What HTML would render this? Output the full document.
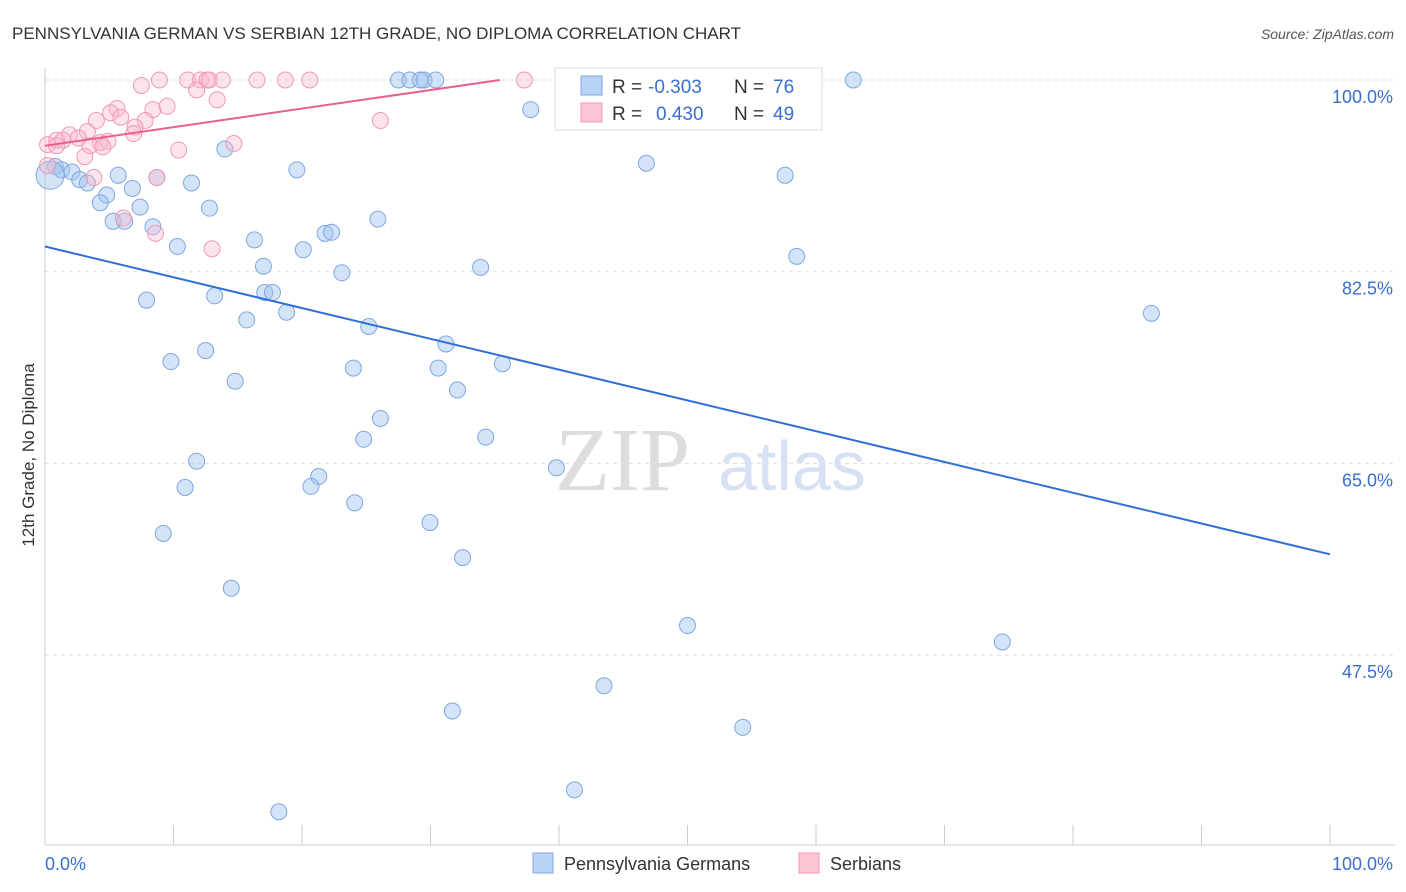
<!DOCTYPE html>
<html><head><meta charset="utf-8">
<style>
body{margin:0;background:#fff;font-family:"Liberation Sans",sans-serif;}
svg{display:block}
</style></head>
<body>
<svg id="chart" width="1406" height="892" xmlns="http://www.w3.org/2000/svg">
<text x="12" y="39" font-size="17" fill="#333">PENNSYLVANIA GERMAN VS SERBIAN 12TH GRADE, NO DIPLOMA CORRELATION CHART</text>
<text x="1394" y="39" font-size="14" fill="#555" text-anchor="end" font-style="italic">Source: ZipAtlas.com</text>
<g id="grid"></g>
<g id="axes"></g>
<text x="555" y="490" font-size="90" fill="#ddd" font-family="Liberation Serif,serif">ZIP</text>
<text x="718" y="490" font-size="70" fill="#d6e2f3">atlas</text>
<g id="pts"></g>
<g id="trend"></g>
<text transform="translate(34,455) rotate(-90)" font-size="17" fill="#333" text-anchor="middle">12th Grade, No Diploma</text>
<g>
<rect x="555" y="68" width="267" height="62" fill="#fff" stroke="#ddd"/>
<rect x="581" y="76" width="21" height="19" fill="#b8d2f5" stroke="#7fa7e0"/>
<rect x="581" y="103" width="21" height="19" fill="#fcc6d5" stroke="#f09ab4"/>
<text x="612" y="93" font-size="19" fill="#333">R =</text>
<text x="648" y="93" font-size="19" fill="#3a6fd1">-0.303</text>
<text x="734" y="93" font-size="19" fill="#333">N =</text>
<text x="773" y="93" font-size="19" fill="#3a6fd1">76</text>
<text x="612" y="120" font-size="19" fill="#333">R =</text>
<text x="656" y="120" font-size="19" fill="#3a6fd1">0.430</text>
<text x="734" y="120" font-size="19" fill="#333">N =</text>
<text x="773" y="120" font-size="19" fill="#3a6fd1">49</text>
</g>
<g>
<rect x="533" y="853" width="20" height="20" fill="#b8d2f5" stroke="#7fa7e0"/>
<text x="564" y="870" font-size="18" fill="#333">Pennsylvania Germans</text>
<rect x="799" y="853" width="20" height="20" fill="#fcc6d5" stroke="#f09ab4"/>
<text x="830" y="870" font-size="18" fill="#333">Serbians</text>
</g>
</svg>
<script>
const yTicks=[100,82.5,65,47.5];
const yTickLabels=["100.0%","82.5%","65.0%","47.5%"];
const blueX=[27.5,28.4,29.5,29.2,30.4,62.9,37.8,14.0,46.8,19.6,57.6,0.8,1.3,2.1,2.7,3.3,5.7,8.7,11.4,4.8,6.8,4.3,7.4,12.8,5.3,6.2,8.4,25.9,21.8,22.3,16.3,10.3,20.1,58.5,17.0,33.9,23.1,7.9,13.2,17.1,17.7,18.8,15.7,25.2,86.1,31.2,12.5,9.8,35.6,24.0,30.6,14.8,32.1,26.1,24.8,34.3,11.8,39.8,21.3,20.7,10.9,24.1,29.96,9.2,32.5,14.5,50.0,74.5,43.5,31.7,54.3,41.2,18.2,0.4];
const blueY=[100,100,100,100,100,100,97.3,93.7,92.4,91.8,91.3,92.1,91.8,91.6,90.9,90.6,91.3,91.1,90.6,89.5,90.1,88.8,88.4,88.3,87.1,87.1,86.6,87.3,86.0,86.1,85.4,84.8,84.5,83.9,83.0,82.9,82.4,79.9,80.3,80.6,80.6,78.8,78.1,77.5,78.7,75.9,75.3,74.3,74.1,73.7,73.7,72.5,71.7,69.1,67.2,67.4,65.2,64.6,63.8,62.9,62.8,61.4,59.6,58.6,56.4,53.6,50.2,48.7,44.7,42.4,40.9,35.2,33.2,91.3];
const pinkX=[8.9,11.1,12.1,12.6,12.8,13.8,16.5,18.7,20.6,37.3,7.5,11.8,13.4,5.6,5.1,8.4,9.5,5.9,4.0,7.8,7.0,3.3,1.9,6.9,0.9,1.4,2.6,4.3,4.9,0.2,0.9,3.5,4.5,14.7,10.4,3.1,26.1,3.8,8.7,6.1,8.6,13.0,0.2];
const pinkY=[100,100,100,100,100,100,100,100,100,100,99.5,99.1,98.2,97.4,97.0,97.3,97.6,96.6,96.3,96.3,95.7,95.3,95.0,95.1,94.5,94.5,94.7,94.3,94.4,94.1,94.0,94.0,93.9,94.2,93.6,93.0,96.3,91.1,91.1,87.4,86.0,84.6,92.2];
const X=v=>45+v/100*1285, Y=v=>80+(100-v)/17.5*191.7;
const ns="http://www.w3.org/2000/svg";
function mk(t,a,p){const e=document.createElementNS(ns,t);for(const k in a)e.setAttribute(k,a[k]);p.appendChild(e);return e;}
const grid=document.getElementById('grid'),axes=document.getElementById('axes');
yTicks.forEach((t,i)=>{
 const l=mk('line',{x1:45,x2:1395,y1:Y(t),y2:Y(t),stroke:'#ddd','stroke-dasharray':'4,4'},grid);
 
 
 const tx=mk('text',{x:1393,y:Y(t)+23,'font-size':18,fill:'#3a6fd1','text-anchor':'end'},axes);
 tx.textContent=yTickLabels[i];
 
 
});
mk('line',{x1:45,x2:45,y1:68,y2:845,stroke:'#ccc'},axes);
mk('line',{x1:45,x2:1395,y1:845,y2:845,stroke:'#ccc'},axes);
for(let i=0;i<=10;i++){mk('line',{x1:X(i*10),x2:X(i*10),y1:825,y2:845,stroke:'#ccc'},axes);}
const x0=mk('text',{x:45,y:870,'font-size':18,fill:'#3a6fd1'},axes);x0.textContent='0.0%';

const x1=mk('text',{x:1393,y:870,'font-size':18,fill:'#3a6fd1','text-anchor':'end'},axes);x1.textContent='100.0%';

const pts=document.getElementById('pts');
blueX.forEach((v,i)=>{const c=mk('circle',{cx:X(v),cy:Y(blueY[i]),r:i==blueX.length-1?14:8,fill:'rgba(160,195,240,0.45)',stroke:'#7fa7e0','stroke-width':1},pts);
 });
pinkX.forEach((v,i)=>{const c=mk('circle',{cx:X(v),cy:Y(pinkY[i]),r:8,fill:'rgba(250,185,205,0.4)',stroke:'#f09ab4','stroke-width':1},pts);
 });
const tr=document.getElementById('trend');
const b=mk('line',{x1:X(0),y1:Y(84.8),x2:X(100),y2:Y(56.7),stroke:'#2f6fd6','stroke-width':2},tr);

const p=mk('line',{x1:X(0),y1:Y(94.0),x2:X(35.4),y2:Y(100),stroke:'#e8608e','stroke-width':2},tr);

</script>
</body></html>
